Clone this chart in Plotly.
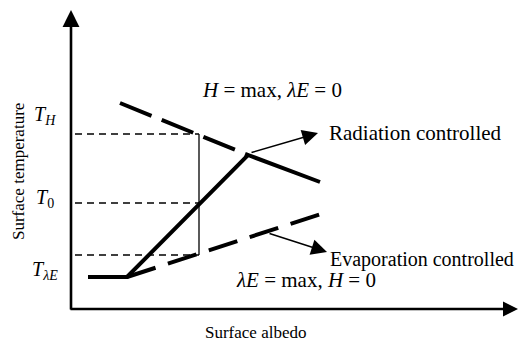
import plotly.graph_objects as go

# --------------------
# Schematic data (arbitrary units: albedo along x, temperature along y,
# origin at the corner of the axes)
# --------------------
x_axis_end = 447
y_axis_end = 299

# surface temperature curve (solid)
curve_x = [17, 56, 177, 249]
curve_y = [32, 32, 154, 127]

# H = max, lambda E = 0 limit (dashed)
h_max_x = [49, 177]
h_max_y = [206, 154]

# lambda E = max, H = 0 limit (dashed)
le_max_x = [56, 256]
le_max_y = [32, 97]

# temperature levels and the albedo where they are read
albedo_mark = 128
level_names = ["<i>T</i><sub><i>H</i></sub>", "<i>T</i><sub>0</sub>", "<i>T</i><sub><i>λE</i></sub>"]
level_values = [175, 106, 54]
level_label_y = [194, 111, 39]

FONT = "Liberation Serif"
BLACK = "#000000"

# the page puts the plot 8px in from the corner, so the view starts 8px in
PAGE_PAD = 8
W, H = 528, 342
X0, Y0 = 71, 309  # where the axes meet, in picture pixels

fig = go.Figure()

# guide lines from the y axis to the albedo mark
for lv in level_values:
    fig.add_trace(go.Scatter(
        x=[4, albedo_mark], y=[lv, lv], mode="lines",
        line=dict(color=BLACK, width=1.7, dash="7px,5px"),
        hoverinfo="skip", showlegend=False
    ))

# vertical range at the albedo mark
fig.add_trace(go.Scatter(
    x=[albedo_mark, albedo_mark], y=[level_values[0], level_values[2]], mode="lines",
    line=dict(color=BLACK, width=1.3),
    hoverinfo="skip", showlegend=False
))

# limits
fig.add_trace(go.Scatter(
    x=h_max_x, y=h_max_y, mode="lines",
    line=dict(color=BLACK, width=4, dash="34px,11px"),
    hoverinfo="skip", showlegend=False
))
fig.add_trace(go.Scatter(
    x=le_max_x, y=le_max_y, mode="lines",
    line=dict(color=BLACK, width=4, dash="30px,13px"),
    hoverinfo="skip", showlegend=False
))

# surface temperature curve
fig.add_trace(go.Scatter(
    x=curve_x, y=curve_y, mode="lines",
    line=dict(color=BLACK, width=4),
    hoverinfo="skip", showlegend=False
))

annotations = []

# axes with arrowheads
annotations.append(dict(
    x=0, y=y_axis_end, ax=0, ay=-2, axref="x", ayref="y",
    text="", showarrow=True, arrowhead=2, arrowsize=1.3, arrowwidth=2.6, arrowcolor=BLACK
))
annotations.append(dict(
    x=x_axis_end, y=0, ax=-2, ay=0, axref="x", ayref="y",
    text="", showarrow=True, arrowhead=2, arrowsize=1.25, arrowwidth=2.4, arrowcolor=BLACK
))

# pointers to the regime labels
annotations.append(dict(
    x=247, y=176, ax=179, ay=156, axref="x", ayref="y",
    text="", showarrow=True, arrowhead=2, arrowsize=2.1, arrowwidth=1.5, arrowcolor=BLACK
))
annotations.append(dict(
    x=256, y=57, ax=197, ay=76, axref="x", ayref="y",
    text="", showarrow=True, arrowhead=2, arrowsize=2.1, arrowwidth=1.5, arrowcolor=BLACK
))

annotations.append(dict(x=256, y=176, text="Radiation controlled", showarrow=False,
                        xanchor="left", yanchor="middle",
                        font=dict(family=FONT, size=21, color=BLACK)))
annotations.append(dict(x=257, y=50, text="Evaporation controlled", showarrow=False,
                        xanchor="left", yanchor="middle",
                        font=dict(family=FONT, size=20, color=BLACK)))
annotations.append(dict(x=201, y=219, text="<i>H</i> = max, <i>λE</i> = 0", showarrow=False,
                        xanchor="center", yanchor="middle",
                        font=dict(family=FONT, size=21, color=BLACK)))
annotations.append(dict(x=235, y=29, text="<i>λE</i> = max, <i>H</i> = 0", showarrow=False,
                        xanchor="center", yanchor="middle",
                        font=dict(family=FONT, size=21, color=BLACK)))

for name, ly in zip(level_names, level_label_y):
    annotations.append(dict(x=-26, y=ly, text=name, showarrow=False,
                            xanchor="center", yanchor="middle",
                            font=dict(family=FONT, size=20, color=BLACK)))

# axis titles
annotations.append(dict(x=-53, y=137, text="Surface temperature", showarrow=False, textangle=-90,
                        xanchor="center", yanchor="middle", font=dict(family=FONT, size=17, color=BLACK)))
annotations.append(dict(x=184, y=-23, text="Surface albedo", showarrow=False,
                        xanchor="center", yanchor="middle", font=dict(family=FONT, size=17, color=BLACK)))

for a in annotations:
    a["xref"] = "x"
    a["yref"] = "y"

fig.update_layout(
    width=W - PAGE_PAD, height=H - PAGE_PAD,
    margin=dict(l=0, r=0, t=0, b=0),
    paper_bgcolor="white", plot_bgcolor="white",
    xaxis=dict(range=[PAGE_PAD - X0, W - X0], visible=False, fixedrange=True),
    yaxis=dict(range=[Y0 - H, Y0 - PAGE_PAD], visible=False, fixedrange=True),
    annotations=annotations,
    showlegend=False
)

fig.write_html("out.html")
